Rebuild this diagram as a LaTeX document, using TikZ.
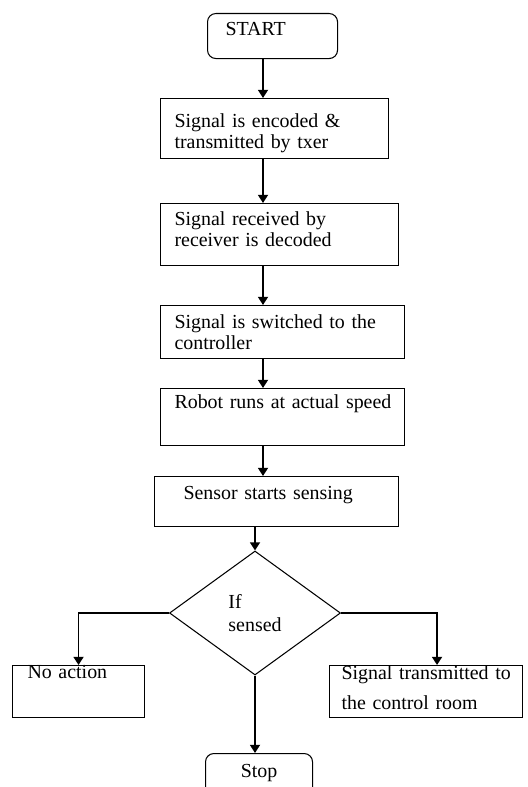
\documentclass[tikz,border=0pt]{standalone}
\usepackage{fontspec}
\setmainfont{Liberation Serif}
\usetikzlibrary{positioning,shapes.geometric,arrows.meta,calc}

\begin{document}
\begin{tikzpicture}[x=0.03cm, y=-0.03cm, font=\fontsize{17}{18}\selectfont,
    box/.style = {draw, line width=0.9pt, anchor=north west, align=left, inner xsep=0.42cm, inner ysep=0pt},
    term/.style = {box, rounded corners=0.25cm},
    cond/.style = {draw, diamond, line width=0.9pt, align=left, inner sep=0pt, minimum width=5.13cm, minimum height=3.72cm},
    arr/.style = {-{Triangle[length=7pt, width=8.5pt]}, line width=1.6pt}]
    \useasboundingbox (0,0) rectangle (527,787);
    \clip (0,0) rectangle (527,787);

    % Nodes
    \node[term, inner xsep=0.54cm, text width=2.82cm, text height=0.66cm, text depth=0.69cm] (start) at (207,13) {START};
    \node[box, text width=6.0cm, text height=0.87cm, text depth=0.93cm] (encode) at (160,98) {Signal is encoded \&\\transmitted by txer};
    \node[box, text width=6.3cm, text height=0.66cm, text depth=1.2cm] (decode) at (160,203) {Signal received by\\receiver is decoded};
    \node[box, text width=6.48cm, text height=0.69cm, text depth=0.9cm] (switch) at (160,305) {Signal is switched to the\\controller};
    \node[box, text width=6.48cm, text height=0.6cm, text depth=1.11cm] (robot) at (160,388) {\mbox{Robot runs at actual speed}};
    \node[box, inner xsep=0.87cm, text width=5.58cm, text height=0.69cm, text depth=0.81cm] (sensor) at (154,476) {Sensor starts sensing};
    \node[cond] (sensed) at (255,613) {If\\[1.5pt]sensed};
    \node[box, inner xsep=0.45cm, text width=3.06cm, text height=0.39cm, text depth=1.17cm] (noact) at (12,665) {No action};
    \node[box, inner xsep=0.36cm, text width=5.07cm, text height=0.42cm, text depth=1.14cm] (ctrl) at (329,665) {\mbox{Signal transmitted to}\\[8pt]the control room};
    \node[term, align=center, inner xsep=0.2cm, text width=2.81cm, text height=0.72cm, text depth=0.78cm] (stop) at (205,753) {Stop};

    % Connectors
    \coordinate (spine) at (263,0);
    \draw[arr] (start.south -| spine) -- (encode.north -| spine);
    \draw[arr] (encode.south -| spine) -- (decode.north -| spine);
    \draw[arr] (decode.south -| spine) -- (switch.north -| spine);
    \draw[arr] (switch.south -| spine) -- (robot.north -| spine);
    \draw[arr] (robot.south -| spine) -- (sensor.north -| spine);
    \draw[arr] (sensor.south -| sensed.north) -- (sensed.north);
    \draw[arr] (sensed.west) -| (noact.north);
    \draw[arr] (sensed.east) -| ($(ctrl.north)+(11,0)$);
    \draw[arr] (sensed.south) -- (stop.north -| sensed.south);
\end{tikzpicture}
\end{document}
